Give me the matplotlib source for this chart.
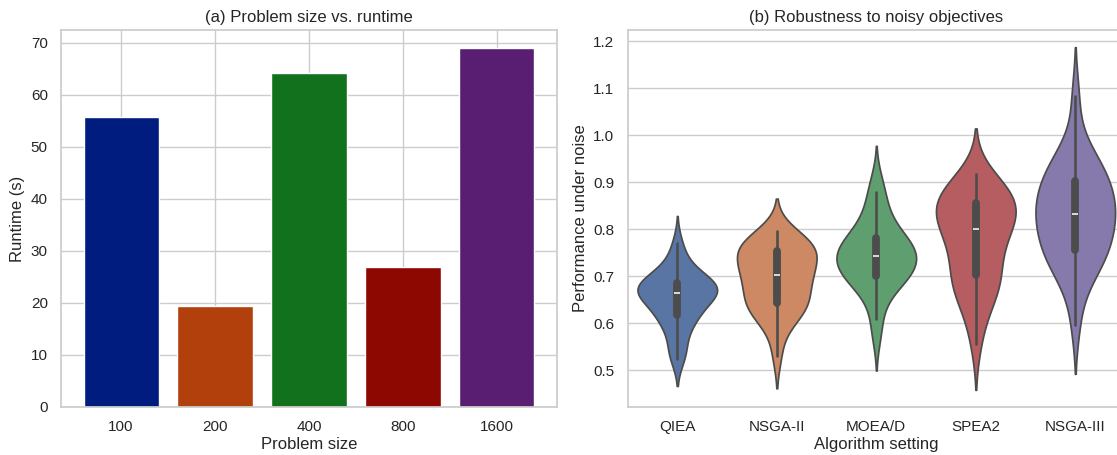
import matplotlib
matplotlib.use("Agg")
import matplotlib.pyplot as plt
import numpy as np
import pandas as pd
import seaborn as sns

# (a) runtime per problem size
sizes = ["100", "200", "400", "800", "1600"]
runtimes = [55.8, 19.5, 64.1, 27.0, 69.0]

# (b) performance samples per algorithm
algorithms = ["QIEA", "NSGA-II", "MOEA/D", "SPEA2", "NSGA-III"]
qiea = [0.525, 0.535, 0.552, 0.578, 0.596, 0.607, 0.612, 0.616, 0.625, 0.635,
        0.645, 0.652, 0.658, 0.662, 0.664, 0.666, 0.668, 0.671, 0.674, 0.677,
        0.680, 0.684, 0.687, 0.689, 0.694, 0.700, 0.710, 0.724, 0.745, 0.770]
nsga2 = [0.530, 0.580, 0.604, 0.618, 0.627, 0.633, 0.638, 0.641, 0.648, 0.658,
         0.668, 0.678, 0.688, 0.696, 0.701, 0.705, 0.712, 0.720, 0.728, 0.735,
         0.742, 0.750, 0.756, 0.760, 0.764, 0.768, 0.772, 0.776, 0.784, 0.797]
moead = [0.572, 0.610, 0.645, 0.668, 0.682, 0.690, 0.695, 0.699, 0.702, 0.708,
         0.714, 0.720, 0.726, 0.732, 0.737, 0.741, 0.745, 0.749, 0.753, 0.757,
         0.762, 0.767, 0.774, 0.780, 0.786, 0.795, 0.806, 0.820, 0.838, 0.858,
         0.880, 0.905]
spea2 = [0.555, 0.608, 0.638, 0.655, 0.670, 0.683, 0.693, 0.700, 0.712, 0.728,
         0.745, 0.760, 0.775, 0.788, 0.796, 0.804, 0.812, 0.820, 0.828, 0.835,
         0.842, 0.850, 0.858, 0.864, 0.870, 0.876, 0.882, 0.888, 0.898, 0.918]
nsga3 = [0.597, 0.668, 0.700, 0.716, 0.731, 0.742, 0.749, 0.754, 0.765, 0.778,
         0.790, 0.802, 0.812, 0.820, 0.828, 0.836, 0.844, 0.852, 0.860, 0.868,
         0.877, 0.895, 0.905, 0.912, 0.920, 0.930, 0.942, 0.958, 0.990, 1.083]

sns.set_theme(style="whitegrid")
plt.rcParams["font.family"] = ["Liberation Sans", "DejaVu Sans"]

fig = plt.figure(figsize=(11.17, 4.55), dpi=100)
ax1 = fig.add_axes([0.0546, 0.1055, 0.4441, 0.8285])
ax2 = fig.add_axes([0.5618, 0.1055, 0.4454, 0.8285])

ax1.bar(sizes, runtimes, color=sns.color_palette("dark", 5))
ax1.set_title("(a) Problem size vs. runtime")
ax1.set_xlabel("Problem size", labelpad=2)
ax1.set_ylabel("Runtime (s)")

groups = [qiea, nsga2, moead, spea2, nsga3]
df = pd.DataFrame({
    "alg": np.repeat(algorithms, [len(g) for g in groups]),
    "perf": np.concatenate(groups),
})
sns.violinplot(data=df, x="alg", y="perf", hue="alg", palette="deep",
               order=algorithms, density_norm="width", legend=False, ax=ax2)
ax2.set_title("(b) Robustness to noisy objectives")
ax2.set_xlabel("Algorithm setting", labelpad=2)
ax2.set_ylabel("Performance under noise")

fig.savefig("out.png")
